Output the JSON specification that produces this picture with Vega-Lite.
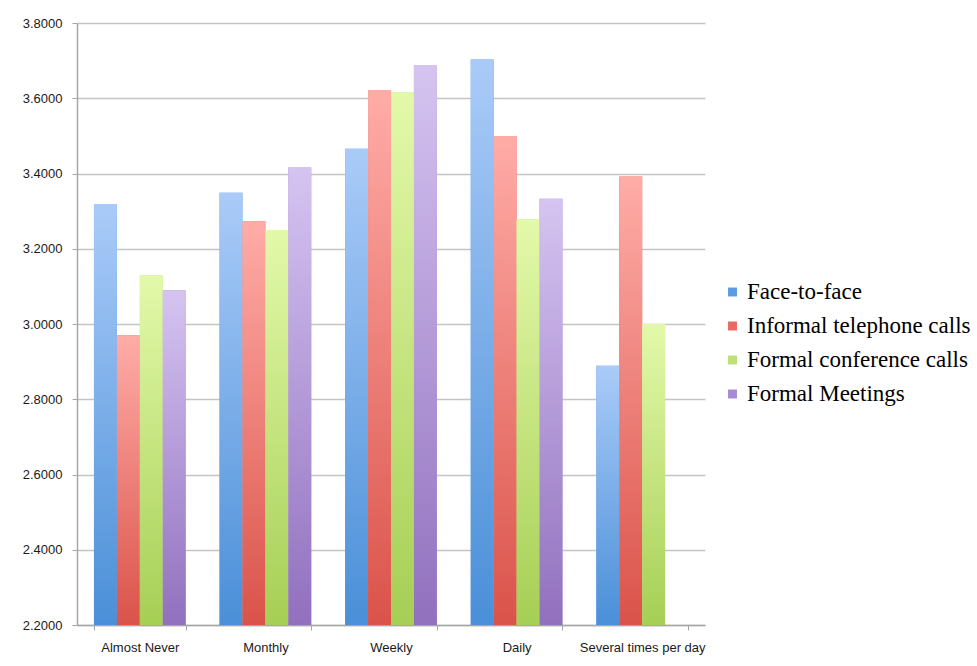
{
  "$schema": "https://vega.github.io/schema/vega-lite/v6.json",
  "autosize": "none",
  "width": 628,
  "height": 602,
  "padding": {"left": 77, "top": 23, "right": 272, "bottom": 41},
  "background": "white",
  "data": {
    "values": [
      {"freq": "Almost Never", "series": "Face-to-face", "value": 3.319},
      {"freq": "Almost Never", "series": "Informal telephone calls", "value": 2.970},
      {"freq": "Almost Never", "series": "Formal conference calls", "value": 3.129},
      {"freq": "Almost Never", "series": "Formal Meetings", "value": 3.090},
      {"freq": "Monthly", "series": "Face-to-face", "value": 3.349},
      {"freq": "Monthly", "series": "Informal telephone calls", "value": 3.273},
      {"freq": "Monthly", "series": "Formal conference calls", "value": 3.250},
      {"freq": "Monthly", "series": "Formal Meetings", "value": 3.416},
      {"freq": "Weekly", "series": "Face-to-face", "value": 3.466},
      {"freq": "Weekly", "series": "Informal telephone calls", "value": 3.622},
      {"freq": "Weekly", "series": "Formal conference calls", "value": 3.615},
      {"freq": "Weekly", "series": "Formal Meetings", "value": 3.687},
      {"freq": "Daily", "series": "Face-to-face", "value": 3.703},
      {"freq": "Daily", "series": "Informal telephone calls", "value": 3.500},
      {"freq": "Daily", "series": "Formal conference calls", "value": 3.278},
      {"freq": "Daily", "series": "Formal Meetings", "value": 3.333},
      {"freq": "Several times per day", "series": "Face-to-face", "value": 2.889},
      {"freq": "Several times per day", "series": "Informal telephone calls", "value": 3.392},
      {"freq": "Several times per day", "series": "Formal conference calls", "value": 3.000}
    ]
  },
  "encoding": {
    "x": {
      "field": "freq",
      "type": "nominal",
      "sort": ["Almost Never", "Monthly", "Weekly", "Daily", "Several times per day"],
      "scale": {"paddingInner": 0.27, "paddingOuter": 0.135},
      "axis": {
        "title": null,
        "labelAngle": 0,
        "tickBand": "extent",
        "tickSize": 5,
        "tickColor": "#a6a6a6",
        "domainColor": "#a6a6a6",
        "domainWidth": 1.5,
        "labelPadding": 11,
        "labelFont": "Liberation Sans",
        "labelFontSize": 13,
        "labelColor": "#1a1a1a",
        "grid": false
      }
    },
    "xOffset": {
      "field": "series",
      "type": "nominal",
      "sort": ["Face-to-face", "Informal telephone calls", "Formal conference calls", "Formal Meetings"],
      "scale": {"paddingInner": 0, "paddingOuter": 0}
    },
    "y": {
      "field": "value",
      "type": "quantitative",
      "scale": {"domain": [2.2, 3.8], "zero": false, "nice": false},
      "axis": {
        "title": null,
        "values": [2.2, 2.4, 2.6, 2.8, 3.0, 3.2, 3.4, 3.6, 3.8],
        "format": ".4f",
        "tickSize": 5,
        "tickColor": "#a6a6a6",
        "domainColor": "#a6a6a6",
        "domainWidth": 1.5,
        "labelPadding": 10,
        "labelFont": "Liberation Sans",
        "labelFontSize": 13,
        "labelColor": "#1a1a1a",
        "gridColor": "#c4c4c4",
        "gridWidth": 1.5
      }
    },
    "y2": {"datum": 2.2}
  },
  "layer": [
    {
      "mark": {"type": "bar"},
      "encoding": {
        "color": {
          "field": "series",
          "type": "nominal",
          "sort": ["Face-to-face", "Informal telephone calls", "Formal conference calls", "Formal Meetings"],
          "scale": {"range": ["#5b9be4", "#e86a63", "#bde076", "#a68bd4"]},
          "legend": {
            "title": null,
            "orient": "none",
            "legendX": 644,
            "legendY": 257.5,
            "symbolType": "square",
            "symbolSize": 80,
            "symbolStrokeWidth": 0,
            "symbolOpacity": 1,
            "labelFont": "Liberation Serif",
            "labelFontSize": 23,
            "labelColor": "#000000",
            "labelOffset": 3,
            "rowPadding": 10,
            "labelLimit": 400
          }
        }
      }
    },
    {
      "mark": {"type": "bar"},
      "encoding": {
        "fill": {
          "condition": [
            {"test": "datum.series === 'Face-to-face'", "value": {"gradient": "linear", "x1": 0, "y1": 0, "x2": 0, "y2": 1, "stops": [{"offset": 0, "color": "#aacbf8"}, {"offset": 1, "color": "#4a8fd8"}]}},
            {"test": "datum.series === 'Informal telephone calls'", "value": {"gradient": "linear", "x1": 0, "y1": 0, "x2": 0, "y2": 1, "stops": [{"offset": 0, "color": "#ffaca7"}, {"offset": 1, "color": "#da534a"}]}},
            {"test": "datum.series === 'Formal conference calls'", "value": {"gradient": "linear", "x1": 0, "y1": 0, "x2": 0, "y2": 1, "stops": [{"offset": 0, "color": "#e3f9aa"}, {"offset": 1, "color": "#a6cf55"}]}}
          ],
          "value": {"gradient": "linear", "x1": 0, "y1": 0, "x2": 0, "y2": 1, "stops": [{"offset": 0, "color": "#d5c4f1"}, {"offset": 1, "color": "#9170be"}]}
        }
      }
    }
  ],
  "config": {
    "view": {"stroke": null}
  }
}
